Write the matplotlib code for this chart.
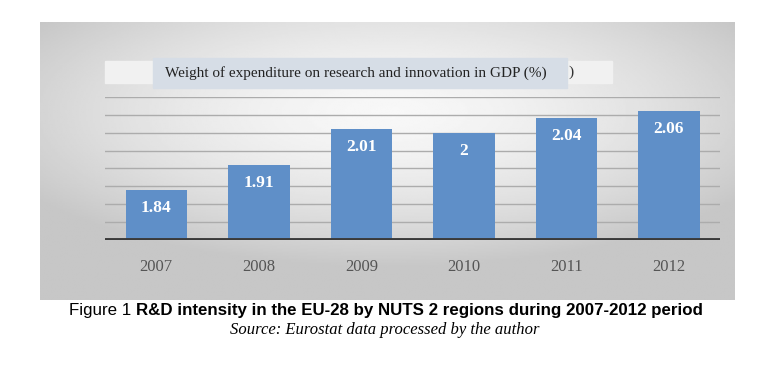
import matplotlib.pyplot as plt
import matplotlib.patches as mpatches
import numpy as np

years = ["2007", "2008", "2009", "2010", "2011", "2012"]
values = [1.84, 1.91, 2.01, 2.00, 2.04, 2.06]
labels = ["1.84", "1.91", "2.01", "2", "2.04", "2.06"]
chart_title = "Weight of expenditure on research and innovation in GDP (%)"

W, H = 768, 367
fig = plt.figure(figsize=(7.68, 3.67), dpi=100)
fig.patch.set_facecolor("white")

def fx(px):
    return px / W

def fy(py):
    return 1 - py / H

# gray panel with radial gradient
bg = fig.add_axes([fx(40), fy(300), fx(695), (300 - 22) / H])
yy, xx = np.mgrid[-1:1:200j, -1:1:400j]
r = np.sqrt((xx / 1.1) ** 2 + ((yy + 0.35) / 1.0) ** 2)
shade = np.clip(0.97 - 0.16 * r ** 1.6, 0.78, 0.97)
bg.imshow(shade, cmap="gray", vmin=0, vmax=1, aspect="auto", extent=[0, 1, 0, 1])
bg.set_axis_off()

# title boxes
fig.patches.append(mpatches.Rectangle((fx(105), fy(83)), fx(507), 22 / H,
                                      transform=fig.transFigure, color="#f1f1f1", zorder=2))
fig.patches.append(mpatches.Rectangle((fx(153), fy(88)), fx(414), 30 / H,
                                      transform=fig.transFigure, color="#d6dde6", zorder=3))
fig.text(fx(165), fy(73), chart_title, family="Liberation Serif", fontsize=11,
         va="center", ha="left", color="#222222", zorder=4)
fig.text(fx(568), fy(72), ")", family="Liberation Serif", fontsize=11,
         va="center", color="#333333", zorder=4)

ax = fig.add_axes([fx(105), fy(240), fx(615), (240 - 97) / H])
ax.patch.set_alpha(0)
x = np.arange(len(years))
ax.bar(x, values, width=0.6, color="#5f8fc8", zorder=3)
ax.set_ylim(1.7, 2.1)
ax.set_xlim(-0.5, len(years) - 0.5)
for yv in np.arange(1.75, 2.101, 0.05):
    ax.axhline(yv, color="#acacac", lw=1, zorder=1)
ax.axhline(1.7, color="#3a3a3a", lw=2.8, zorder=4)
for xi, v, lab in zip(x, values, labels):
    ax.text(xi, v - 0.05, lab, ha="center", va="center", color="white",
            family="Liberation Serif", fontweight="bold", fontsize=12.5, zorder=5)
ax.set_xticks(x)
ax.set_xticklabels(years, family="Liberation Serif", fontsize=12, color="#555555")
ax.tick_params(axis="x", length=0, pad=14)
ax.set_yticks([])
for s in ax.spines.values():
    s.set_visible(False)

# caption
fig.text(fx(131), fy(311), "Figure 1", family="Liberation Sans", fontsize=12.2,
         ha="right", va="center", color="black")
fig.text(fx(136), fy(311), "R&D intensity in the EU-28 by NUTS 2 regions during 2007-2012 period",
         family="Liberation Sans", fontsize=12.2, fontweight="bold", ha="left", va="center")
fig.text(fx(385), fy(330), "Source: Eurostat data processed by the author",
         family="Liberation Serif", style="italic", fontsize=12, ha="center", va="center")

fig.savefig("out.png", dpi=100)
